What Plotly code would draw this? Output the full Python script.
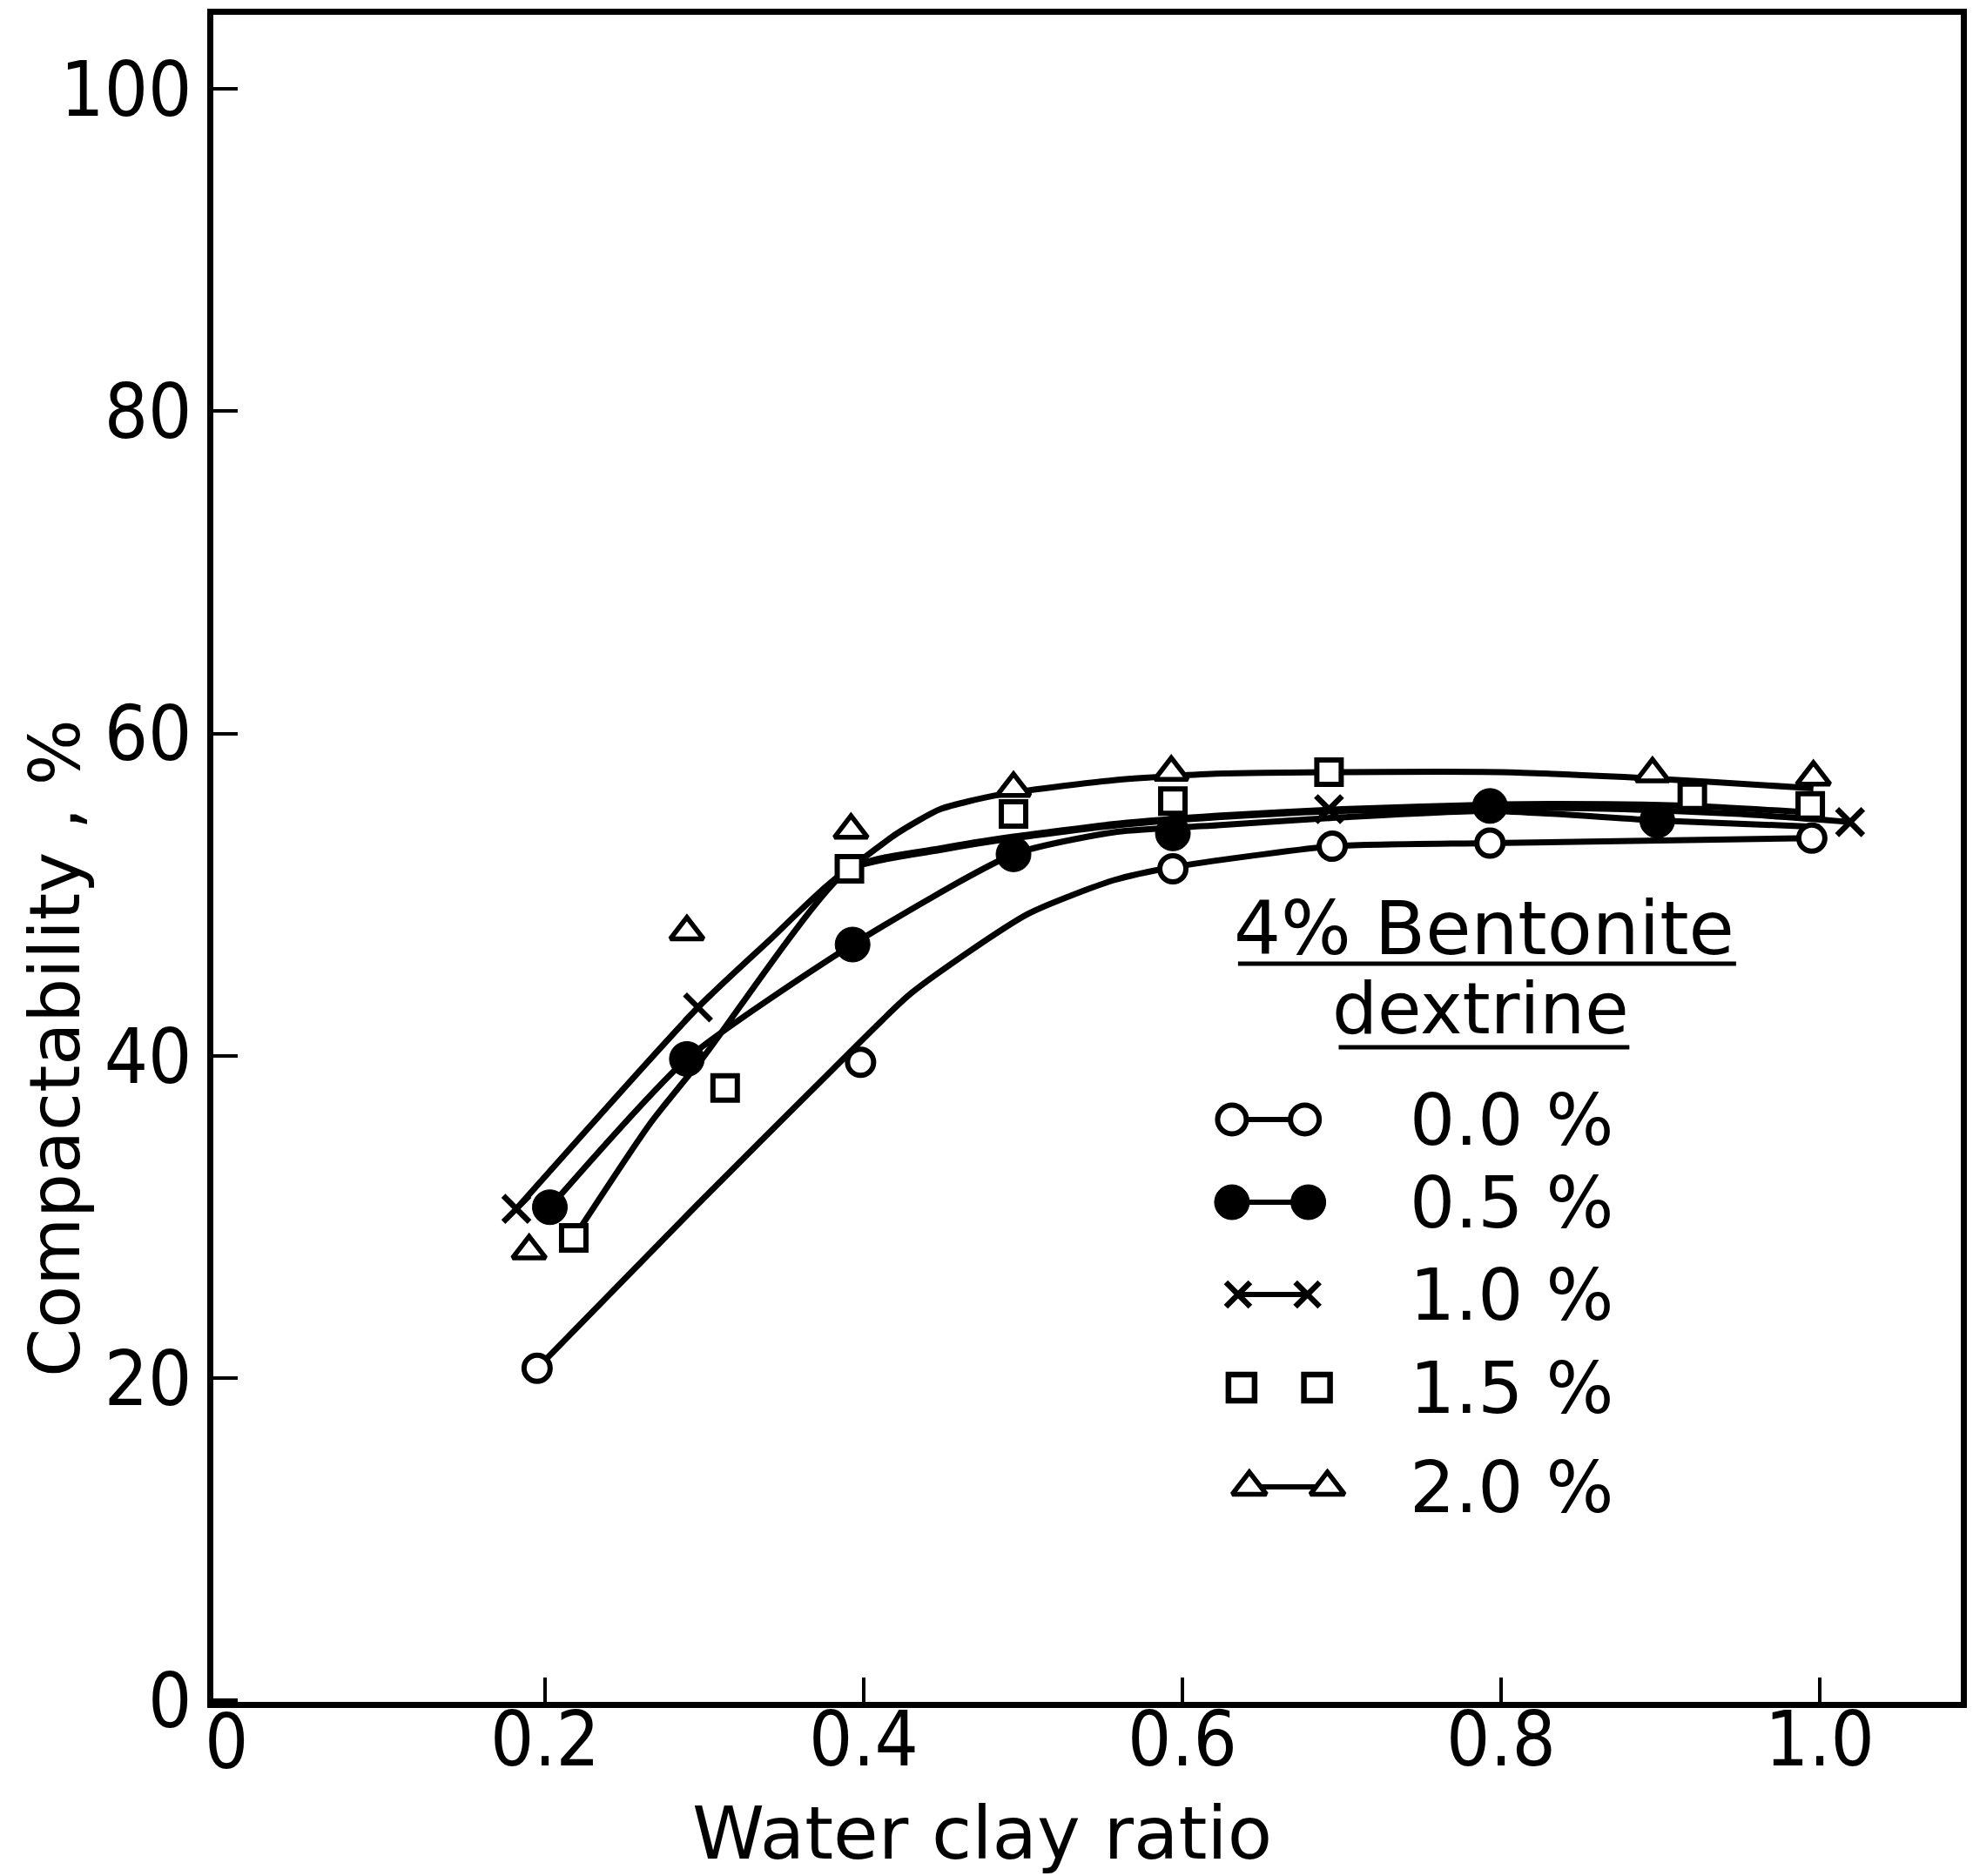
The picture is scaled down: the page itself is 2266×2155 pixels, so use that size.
import plotly.graph_objects as go

# Compactability (%) against water/clay ratio, 4 % bentonite, five dextrine levels
# ---- measured points ----
d00_x = [0.195, 0.398, 0.594, 0.694, 0.793, 0.995]
d00_y = [20.6, 39.6, 51.6, 53.0, 53.2, 53.5]

d05_x = [0.203, 0.289, 0.393, 0.494, 0.594, 0.793, 0.898]
d05_y = [30.6, 39.8, 46.9, 52.5, 53.8, 55.5, 54.6]

d10_x = [0.182, 0.296, 0.692, 1.019]
d10_y = [30.5, 43.0, 55.3, 54.5]

d15_x = [0.218, 0.313, 0.391, 0.494, 0.594, 0.692, 0.920, 0.994]
d15_y = [28.7, 38.0, 51.6, 55.0, 55.8, 57.6, 56.1, 55.5]

d20_x = [0.190, 0.289, 0.392, 0.494, 0.593, 0.895, 0.996]
d20_y = [27.9, 47.7, 54.0, 56.6, 57.6, 57.5, 57.3]

# ---- hand-fitted trend curves ----
fit00_x = [0.195, 0.296, 0.380, 0.430, 0.503, 0.557, 0.594, 0.694, 0.793, 0.995]
fit00_y = [20.6, 30.8, 39.1, 43.9, 48.8, 50.9, 51.7, 53.0, 53.2, 53.5]

fit05_x = [0.203, 0.289, 0.393, 0.494, 0.559, 0.622, 0.700, 0.793, 0.898, 1.000]
fit05_y = [30.6, 39.8, 46.9, 52.5, 53.9, 54.3, 54.8, 55.2, 54.6, 54.2]

fit10_x = [0.182, 0.296, 0.339, 0.391, 0.450, 0.494, 0.559, 0.622, 0.700, 0.800, 0.877, 0.950, 1.019]
fit10_y = [30.5, 43.0, 47.0, 51.6, 52.8, 53.5, 54.3, 54.8, 55.2, 55.4, 55.3, 55.0, 54.5]

fit15_x = [0.218, 0.266, 0.300, 0.391, 0.450, 0.494, 0.559, 0.622, 0.700, 0.800, 0.877, 0.920, 0.994]
fit15_y = [28.7, 35.8, 40.0, 51.6, 52.9, 53.6, 54.4, 54.9, 55.3, 55.6, 55.6, 55.5, 55.1]

fit20_x = [0.391, 0.421, 0.448, 0.485, 0.557, 0.621, 0.700, 0.800, 0.877, 0.930, 0.996]
fit20_y = [51.6, 53.8, 55.3, 56.2, 57.1, 57.5, 57.6, 57.6, 57.3, 57.0, 56.6]

x_ticks = [0.2, 0.4, 0.6, 0.8, 1.0]
x_ticktext = ["0.2", "0.4", "0.6", "0.8", "1.0"]
y_ticks = [0, 20, 40, 60, 80, 100]
y_ticktext = ["0", "20", "40", "60", "80", "100"]

legend_title = ["4% Bentonite", "dextrine"]
legend_labels = ["0.0 %", "0.5 %", "1.0 %", "1.5 %", "2.0 %"]

# ---- page geometry ----
W, H = 2266, 2155
L, R, T, B = 245, 7, 17, 200
PW = W - L - R
PH = H - T - B

FONT = "DejaVu Sans"
TICK_FONT = "Liberation Sans Narrow, DejaVu Sans Condensed, Liberation Sans, sans-serif"
INK = "black"


def fx(p):
    """page pixel column -> paper fraction"""
    return (p - L) / PW


def fy(p):
    """page pixel row -> paper fraction"""
    return (H - B - p) / PH


fig = go.Figure()

# trend curves
curve = dict(color=INK, width=7, shape="spline", smoothing=0.6)
for cx, cy in [(fit00_x, fit00_y), (fit05_x, fit05_y), (fit10_x, fit10_y),
               (fit15_x, fit15_y), (fit20_x, fit20_y)]:
    fig.add_trace(go.Scatter(x=cx, y=cy, mode="lines", line=curve,
                             hoverinfo="skip", showlegend=False))

# symbol styles per dextrine level
sty_open_circle = dict(symbol="circle", size=30, color="white", line=dict(color=INK, width=6))
sty_full_circle = dict(symbol="circle", size=40, color=INK, line=dict(color=INK, width=1))
sty_cross = dict(symbol="x-thin", size=30, color=INK, line=dict(color=INK, width=6.5))
sty_square = dict(symbol="square", size=28, color="white", line=dict(color=INK, width=6))
sty_triangle = dict(symbol="triangle-up", size=33, color="white", line=dict(color=INK, width=5.5))

for sx, sy, st, name in [(d00_x, d00_y, sty_open_circle, legend_labels[0]),
                         (d05_x, d05_y, sty_full_circle, legend_labels[1]),
                         (d10_x, d10_y, sty_cross, legend_labels[2]),
                         (d15_x, d15_y, sty_square, legend_labels[3]),
                         (d20_x, d20_y, sty_triangle, legend_labels[4])]:
    fig.add_trace(go.Scatter(x=sx, y=sy, mode="markers", marker=st, name=name,
                             showlegend=False))

# ---- hand-drawn style key (overlay axes in paper units) ----
row_y = [1286, 1381, 1487, 1594, 1708]
sym_x = [(1419, 1503), (1419, 1507), (1426, 1506), (1430, 1517), (1439, 1529)]
key_styles = [
    dict(symbol="circle", size=33, color="white", line=dict(color=INK, width=6)),
    dict(symbol="circle", size=40, color=INK, line=dict(color=INK, width=1)),
    dict(symbol="x-thin", size=28, color=INK, line=dict(color=INK, width=6.5)),
    dict(symbol="square", size=30, color="white", line=dict(color=INK, width=6.5)),
    dict(symbol="triangle-up", size=34, color="white", line=dict(color=INK, width=5.5)),
]
key_lines = [True, True, True, False, True]
for ry, (xa, xb), st, has_line in zip(row_y, sym_x, key_styles, key_lines):
    fig.add_trace(go.Scatter(
        x=[fx(xa), fx(xb)], y=[fy(ry), fy(ry)], xaxis="x2", yaxis="y2",
        mode="lines+markers" if has_line else "markers",
        line=dict(color=INK, width=6), marker=st, hoverinfo="skip", showlegend=False))

annotations = []
for ry, lab in zip(row_y, legend_labels):
    annotations.append(dict(x=fx(1622), y=fy(ry), xref="paper", yref="paper",
                            text=lab, showarrow=False, xanchor="left", yanchor="middle",
                            font=dict(family=FONT, size=82, color=INK)))

annotations.append(dict(x=fx(1710), y=fy(1066), xref="paper", yref="paper",
                        text=legend_title[0], showarrow=False, xanchor="center",
                        yanchor="middle", font=dict(family=FONT, size=85, color=INK)))
annotations.append(dict(x=fx(1706), y=fy(1158), xref="paper", yref="paper",
                        text=legend_title[1], showarrow=False, xanchor="center",
                        yanchor="middle", font=dict(family=FONT, size=82, color=INK)))

# axis titles
annotations.append(dict(x=fx(1131), y=fy(2106), xref="paper", yref="paper",
                        text="Water clay ratio", showarrow=False, xanchor="center",
                        yanchor="middle", font=dict(family=FONT, size=84, color=INK)))
annotations.append(dict(x=fx(62), y=fy(1204), xref="paper", yref="paper",
                        text="Compactability , %", showarrow=False, textangle=-90,
                        xanchor="center", yanchor="middle",
                        font=dict(family=FONT, size=80, color=INK)))
# origin label of the x scale
annotations.append(dict(x=0, y=fy(2000), xref="x", yref="paper", text="0",
                        showarrow=False, xanchor="center", yanchor="middle",
                        font=dict(family=TICK_FONT, size=88, color=INK)))

shapes = [
    dict(type="line", xref="paper", yref="paper", x0=fx(1426), x1=fx(2000),
         y0=fy(1107), y1=fy(1107), line=dict(color=INK, width=5)),
    dict(type="line", xref="paper", yref="paper", x0=fx(1542), x1=fx(1877),
         y0=fy(1203), y1=fy(1203), line=dict(color=INK, width=5)),
]

axis_common = dict(showline=True, mirror=True, linewidth=7, linecolor=INK,
                   showgrid=False, zeroline=False, ticks="inside", ticklen=28,
                   tickwidth=4, tickcolor=INK,
                   tickfont=dict(family=TICK_FONT, size=88, color=INK))

fig.update_layout(
    width=W, height=H,
    margin=dict(l=L, r=R, t=T, b=B, pad=0),
    paper_bgcolor="white", plot_bgcolor="white",
    showlegend=False,
    xaxis=dict(range=[-0.0082, 1.0885], tickvals=x_ticks, ticktext=x_ticktext,
               ticklabelstandoff=-40, **axis_common),
    yaxis=dict(range=[-0.1, 104.6], tickvals=y_ticks, ticktext=y_ticktext,
               **axis_common),
    xaxis2=dict(overlaying="x", anchor="y2", range=[0, 1], visible=False),
    yaxis2=dict(overlaying="y", anchor="x2", range=[0, 1], visible=False),
    annotations=annotations,
    shapes=shapes,
)

fig.write_html("out.html")
